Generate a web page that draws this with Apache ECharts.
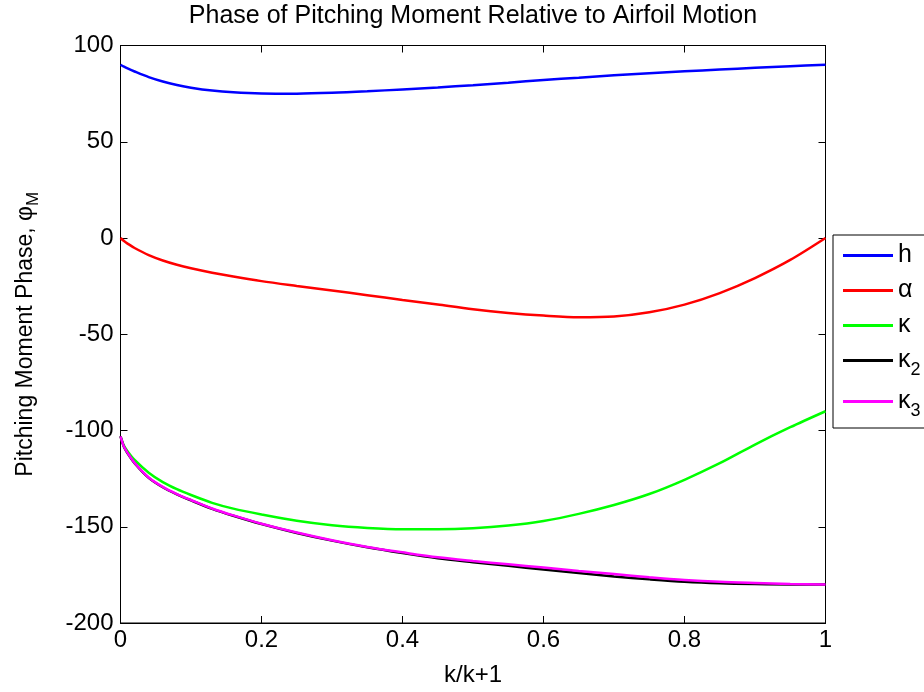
<!DOCTYPE html>
<html>
<head>
<meta charset="utf-8">
<script src="https://cdn.jsdelivr.net/npm/echarts@6/dist/echarts.min.js"></script>
<style>
  html, body { margin: 0; padding: 0; background: #fff; }
  #chart { width: 924px; height: 692px; }
</style>
</head>
<body>
<div id="chart"></div>
<script>
// Reduced frequency coordinate k/(k+1)
var kNorm = [0, 0.005, 0.01, 0.02, 0.04, 0.06, 0.08, 0.1, 0.13, 0.16, 0.2, 0.25, 0.3,
             0.35, 0.4, 0.45, 0.5, 0.55, 0.6, 0.65, 0.7, 0.75, 0.8, 0.85, 0.9, 0.95, 1];

// Pitching moment phase (deg) for each motion
var phaseH = [90, 89.0, 88.1, 86.5, 83.6, 81.3, 79.5, 78.1, 76.6, 75.7, 75.1, 75.0, 75.4,
              76.2, 77.2, 78.2, 79.4, 80.7, 82.1, 83.3, 84.5, 85.6, 86.6, 87.5, 88.4, 89.2, 90];
var phaseAlpha = [0, -1.6, -2.9, -5.2, -8.9, -11.7, -13.9, -15.7, -18.0, -20.0, -22.4, -24.9, -27.3,
                  -29.7, -32.2, -34.6, -37.0, -38.9, -40.3, -41.2, -40.8, -38.6, -34.6, -28.6, -20.8, -11.4, 0];
var phaseKappa = [-103, -108.0, -110.8, -115.3, -121.9, -126.8, -130.5, -133.5, -137.6, -140.6, -143.6, -146.9, -149.2,
                  -150.6, -151.3, -151.3, -150.8, -149.4, -147.0, -143.3, -138.7, -133.0, -125.6, -117.0, -107.3, -98.3, -90];
var phaseKappa2 = [-103, -108.6, -111.8, -117.0, -124.6, -129.5, -133.2, -136.3, -140.7, -144.3, -148.6, -153.2, -157.2,
                   -160.7, -163.7, -166.4, -168.4, -170.3, -172.2, -174.0, -175.8, -177.3, -178.6, -179.4, -179.8, -180.0, -180];
var phaseKappa3 = [-103, -108.5, -111.6, -116.8, -124.4, -129.3, -133.0, -136.1, -140.5, -144.1, -148.4, -153.0, -157.0,
                   -160.5, -163.3, -165.9, -167.8, -169.5, -171.2, -173.0, -174.6, -176.2, -177.6, -178.6, -179.2, -179.7, -180];

var seriesNames = ['h', 'α', 'κ', 'κ2', 'κ3'];
var seriesColors = ['#0000ff', '#ff0000', '#00ff00', '#000000', '#ff00ff'];
var seriesValues = [phaseH, phaseAlpha, phaseKappa, phaseKappa2, phaseKappa3];

var xTicks = { min: 0, max: 1, interval: 0.2 };
var yTicks = { min: -200, max: 100, interval: 50 };

var FONT = 'Liberation Sans, Arial, Helvetica, sans-serif';
var LINE_ICON = 'path://M0,0 L50,0 L50,3 L0,3 Z';

function pairs(xs, ys) {
  return xs.map(function (x, i) { return [x, ys[i]]; });
}

var chart = echarts.init(document.getElementById('chart'), null, { renderer: 'canvas' });

var tickStyle = { inside: true, length: 7, lineStyle: { color: '#000', width: 1 } };

var option = {
  backgroundColor: '#fff',
  animation: false,
  title: {
    text: 'Phase of Pitching Moment Relative to Airfoil Motion',
    left: 473,
    top: 4,
    padding: 0,
    textAlign: 'center',
    textStyle: { fontFamily: FONT, fontSize: 25, fontWeight: 'normal', color: '#000' }
  },
  grid: {
    left: 120.5, right: 98.5, top: 45.5, bottom: 69,
    show: true, borderColor: '#000', borderWidth: 1, backgroundColor: 'transparent',
    containLabel: false
  },
  legend: {
    orient: 'vertical',
    left: 833,
    top: 235,
    padding: [8, 30, 8, 10],
    itemGap: 10,
    itemWidth: 50,
    itemHeight: 3,
    icon: LINE_ICON,
    borderColor: '#000',
    borderWidth: 1,
    backgroundColor: '#fff',
    data: seriesNames,
    formatter: function (name) {
      if (name.length > 1) return '{b|' + name.charAt(0) + '}{s|' + name.slice(1) + '}';
      return '{b|' + name + '}';
    },
    textStyle: {
      fontFamily: FONT, color: '#000', fontSize: 24,
      rich: {
        b: { fontFamily: FONT, fontSize: 25, color: '#000' },
        s: { fontFamily: FONT, fontSize: 18, color: '#000', verticalAlign: 'bottom', padding: [19, 0, 0, 0] }
      }
    }
  },
  xAxis: [{
    type: 'value',
    min: xTicks.min, max: xTicks.max, interval: xTicks.interval,
    name: 'k/k+1',
    nameLocation: 'middle',
    nameGap: 40,
    nameTextStyle: { fontFamily: FONT, fontSize: 24, color: '#000' },
    axisLine: { show: true, onZero: false, lineStyle: { color: '#000', width: 1 } },
    axisTick: tickStyle,
    splitLine: { show: false },
    axisLabel: { fontFamily: FONT, fontSize: 24, color: '#000', margin: 5 }
  }, {
    type: 'value', position: 'top',
    min: xTicks.min, max: xTicks.max, interval: xTicks.interval,
    axisLine: { show: true, onZero: false, lineStyle: { color: '#000', width: 1 } },
    axisTick: tickStyle,
    splitLine: { show: false },
    axisLabel: { show: false }
  }],
  yAxis: [{
    type: 'value',
    min: yTicks.min, max: yTicks.max, interval: yTicks.interval,
    name: '{t|Pitching Moment Phase, φ}{s|M}',
    nameLocation: 'middle',
    nameGap: 79,
    nameTextStyle: {
      fontFamily: FONT, fontSize: 23, color: '#000',
      rich: {
        t: { fontFamily: FONT, fontSize: 23, color: '#000' },
        s: { fontFamily: FONT, fontSize: 17, color: '#000', verticalAlign: 'bottom', padding: [14, 0, 0, 0] }
      }
    },
    axisLine: { show: true, onZero: false, lineStyle: { color: '#000', width: 1 } },
    axisTick: tickStyle,
    splitLine: { show: false },
    axisLabel: { fontFamily: FONT, fontSize: 24, color: '#000', margin: 7 }
  }, {
    type: 'value', position: 'right',
    min: yTicks.min, max: yTicks.max, interval: yTicks.interval,
    axisLine: { show: true, onZero: false, lineStyle: { color: '#000', width: 1 } },
    axisTick: tickStyle,
    splitLine: { show: false },
    axisLabel: { show: false }
  }],
  series: seriesNames.map(function (name, i) {
    return {
      name: name,
      type: 'line',
      xAxisIndex: 0,
      yAxisIndex: 0,
      data: pairs(kNorm, seriesValues[i]),
      showSymbol: false,
      symbol: 'none',
      smooth: 0.3,
      lineStyle: { color: seriesColors[i], width: 2.5 },
      itemStyle: { color: seriesColors[i] },
      z: 2 + i
    };
  })
};

chart.setOption(option);
</script>
</body>
</html>
